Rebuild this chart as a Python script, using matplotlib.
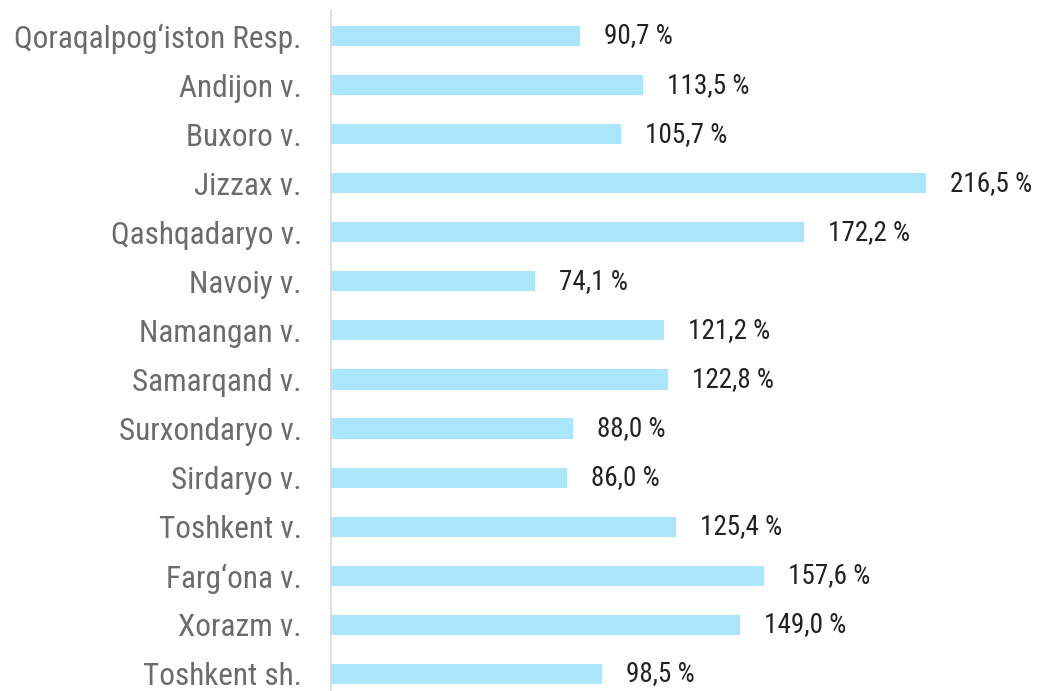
import matplotlib
matplotlib.use("Agg")
import matplotlib.pyplot as plt
from matplotlib import font_manager

regions = ["Qoraqalpog‘iston Resp.", "Andijon v.", "Buxoro v.", "Jizzax v.",
           "Qashqadaryo v.", "Navoiy v.", "Namangan v.", "Samarqand v.",
           "Surxondaryo v.", "Sirdaryo v.", "Toshkent v.", "Farg‘ona v.",
           "Xorazm v.", "Toshkent sh."]
values = [90.7, 113.5, 105.7, 216.5, 172.2, 74.1, 121.2, 122.8,
          88.0, 86.0, 125.4, 157.6, 149.0, 98.5]

# pick a condensed face if one is around
names = {f.name for f in font_manager.fontManager.ttflist}
font = "Roboto"
for cand in ["Roboto Condensed", "Liberation Sans Narrow"]:
    if cand in names:
        font = cand
        break
plt.rcParams['font.family'] = [font, 'DejaVu Sans']

fig = plt.figure(figsize=(10.4, 6.91), dpi=100)
ax = fig.add_axes([331/1040, 0, 709/1040, 1 - 10/691])

y = list(range(len(regions)))
ax.barh(y, values, height=0.41, color="#aae6fc")
ax.set_xlim(0, 258)
ax.set_ylim(13.35, -0.53)

for yi, v in zip(y, values):
    ax.text(v + 8.7, yi, f"{v:.1f} %".replace(".", ","), va="center", ha="left",
            fontsize=19.5, color="#222222")

ax.set_yticks(y)
ax.set_yticklabels(regions, fontsize=22.5, color="#6b6b6b")
ax.tick_params(axis="y", length=0, pad=21)
ax.set_xticks([])
for s in ["top", "right", "bottom"]:
    ax.spines[s].set_visible(False)
ax.spines["left"].set_color("#d9d9d9")
ax.spines["left"].set_linewidth(1.2)

fig.savefig("out.png", dpi=100)
